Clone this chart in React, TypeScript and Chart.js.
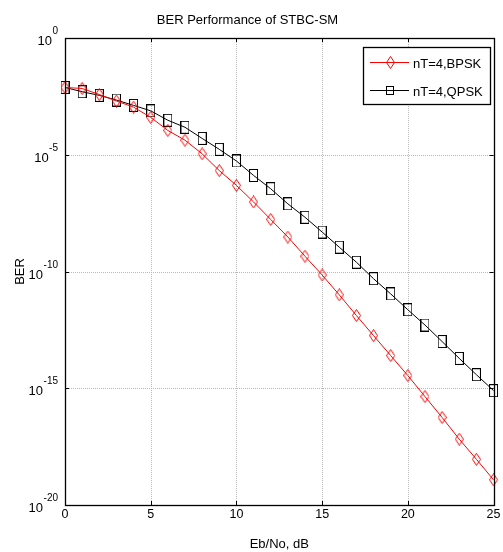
import React, { useEffect, useRef } from 'react';
import { Chart, registerables } from 'chart.js';

Chart.register(...registerables);

const snrDb = [0, 1, 2, 3, 4, 5, 6, 7, 8, 9, 10, 11, 12, 13, 14, 15, 16, 17, 18, 19, 20, 21, 22, 23, 24, 25];

const berBpsk = [
  7.6e-3, 6.9e-3, 3.8e-3, 2.0e-3, 1.1e-3, 4.0e-4, 1.1e-4, 4.2e-5, 1.1e-5, 2.1e-6,
  4.9e-7, 9.5e-8, 1.7e-8, 3.0e-9, 4.5e-10, 7.1e-11, 1.0e-11, 1.3e-12, 1.8e-13, 2.5e-14,
  3.5e-15, 4.4e-16, 5.6e-17, 6.6e-18, 9.1e-19, 1.2e-19,
];

const berQpsk = [
  7.6e-3, 5.0e-3, 3.5e-3, 2.2e-3, 1.3e-3, 7.6e-4, 3.0e-4, 1.5e-4, 5.0e-5, 1.7e-5,
  5.4e-6, 1.3e-6, 3.5e-7, 7.9e-8, 2.1e-8, 4.9e-9, 1.1e-9, 2.5e-10, 4.9e-11, 1.1e-11,
  2.3e-12, 5.1e-13, 1.0e-13, 1.9e-14, 3.8e-15, 7.9e-16,
];

const seriesLabels = ['nT=4,BPSK', 'nT=4,QPSK'];
const seriesColors = ['#ff0000', '#000000'];
const xTickValues = [0, 5, 10, 15, 20, 25];
const yTickBase = '10';
const yTickExponents = [0, -5, -10, -15, -20];
const titleText = 'BER Performance of STBC-SM';
const xTitleText = 'Eb/No, dB';
const yTitleText = 'BER';

const FONT = "'Liberation Sans', Arial, Helvetica, sans-serif";

function makeDiamond(color: string, w: number, h: number) {
  const c = document.createElement('canvas');
  c.width = w;
  c.height = h;
  const g = c.getContext('2d')!;
  g.strokeStyle = color;
  g.lineWidth = 1;
  g.beginPath();
  g.moveTo(w / 2, 0.5);
  g.lineTo(w - 0.5, h / 2);
  g.lineTo(w / 2, h - 0.5);
  g.lineTo(0.5, h / 2);
  g.closePath();
  g.stroke();
  return c;
}

function makeSquare(color: string, w: number, h: number) {
  const c = document.createElement('canvas');
  c.width = w;
  c.height = h;
  const g = c.getContext('2d')!;
  g.strokeStyle = color;
  g.lineWidth = 1;
  g.strokeRect(0.5, 0.5, w - 1, h - 1);
  return c;
}

export default function App() {
  const canvasRef = useRef<HTMLCanvasElement | null>(null);

  useEffect(() => {
    const canvas = canvasRef.current;
    if (!canvas) return;

    const diamond = makeDiamond(seriesColors[0], 9, 13);
    const square = makeSquare(seriesColors[1], 9, 13);
    const legendDiamond = makeDiamond(seriesColors[0], 9, 13);
    const legendSquare = makeSquare(seriesColors[1], 8, 9);

    const decorPlugin = {
      id: 'decor',
      beforeDatasetsDraw(chart: any) {
        const { ctx, chartArea: a, scales } = chart;
        const xs = scales.x;
        const ys = scales.y;
        ctx.save();
        ctx.strokeStyle = '#b8b8b8';
        ctx.lineWidth = 1;
        ctx.setLineDash([1, 1]);
        for (const v of xTickValues) {
          const px = Math.round(xs.getPixelForValue(v)) + 0.5;
          if (px - a.left < 2 || a.right - px < 2) continue;
          ctx.beginPath();
          ctx.moveTo(px, a.top);
          ctx.lineTo(px, a.bottom);
          ctx.stroke();
        }
        for (const e of yTickExponents) {
          const py = Math.round(ys.getPixelForValue(Math.pow(10, e))) + 0.5;
          if (py - a.top < 2 || a.bottom - py < 2) continue;
          ctx.beginPath();
          ctx.moveTo(a.left, py);
          ctx.lineTo(a.right, py);
          ctx.stroke();
        }
        ctx.restore();
      },
      afterDraw(chart: any) {
        const { ctx, chartArea: a, scales } = chart;
        const xs = scales.x;
        const ys = scales.y;
        ctx.save();
        ctx.setLineDash([]);
        ctx.strokeStyle = '#000';
        ctx.lineWidth = 1.3;
        ctx.strokeRect(Math.round(a.left) + 0.5, Math.round(a.top) + 0.5, Math.round(a.right - a.left), Math.round(a.bottom - a.top));

        // inward tick marks
        ctx.lineWidth = 1;
        const tl = 4;
        for (const v of xTickValues) {
          const px = Math.round(xs.getPixelForValue(v)) + 0.5;
          ctx.beginPath();
          ctx.moveTo(px, a.bottom);
          ctx.lineTo(px, a.bottom - tl);
          ctx.moveTo(px, a.top);
          ctx.lineTo(px, a.top + tl);
          ctx.stroke();
        }
        for (const e of yTickExponents) {
          const py = Math.round(ys.getPixelForValue(Math.pow(10, e))) + 0.5;
          ctx.beginPath();
          ctx.moveTo(a.left, py);
          ctx.lineTo(a.left + tl, py);
          ctx.moveTo(a.right, py);
          ctx.lineTo(a.right - tl, py);
          ctx.stroke();
        }

        // y tick labels with superscript exponents
        ctx.fillStyle = '#000';
        const R = 58;
        for (const e of yTickExponents) {
          const py = ys.getPixelForValue(Math.pow(10, e));
          const expText = String(e);
          ctx.font = `10px ${FONT}`;
          const we = ctx.measureText(expText).width;
          ctx.textAlign = 'left';
          ctx.textBaseline = 'alphabetic';
          ctx.fillText(expText, R - we, py - 4);
          ctx.font = `13px ${FONT}`;
          ctx.textAlign = 'right';
          ctx.fillText(yTickBase, R - we - 0.5, py + 7);
        }

        // legend
        const lx = 363.5, ly = 47.5, lw = 127, lh = 57;
        ctx.fillStyle = '#fff';
        ctx.fillRect(lx, ly, lw, lh);
        ctx.strokeStyle = '#000';
        ctx.lineWidth = 1.3;
        ctx.strokeRect(lx, ly, lw, lh);
        const rows = [62.5, 90.5];
        const markers = [legendDiamond, legendSquare];
        for (let i = 0; i < seriesLabels.length; i++) {
          const yy = rows[i];
          ctx.strokeStyle = seriesColors[i];
          ctx.lineWidth = 1;
          ctx.beginPath();
          ctx.moveTo(370, yy);
          ctx.lineTo(409, yy);
          ctx.stroke();
          const m = markers[i];
          ctx.drawImage(m, Math.round(390 - m.width / 2), Math.round(yy - m.height / 2));
          ctx.fillStyle = '#000';
          ctx.font = `13px ${FONT}`;
          ctx.textAlign = 'left';
          ctx.textBaseline = 'alphabetic';
          ctx.fillText(seriesLabels[i], 413, yy + 5);
        }
        ctx.restore();
      },
    };

    const chart = new Chart(canvas, {
      type: 'line',
      data: {
        labels: snrDb,
        datasets: [
          {
            label: seriesLabels[0],
            data: snrDb.map((x, i) => ({ x, y: berBpsk[i] })),
            borderColor: seriesColors[0],
            backgroundColor: 'transparent',
            borderWidth: 1,
            pointStyle: diamond as any,
            pointRadius: 5,
            pointHoverRadius: 5,
            tension: 0,
            clip: false as any,
          },
          {
            label: seriesLabels[1],
            data: snrDb.map((x, i) => ({ x, y: berQpsk[i] })),
            borderColor: seriesColors[1],
            backgroundColor: 'transparent',
            borderWidth: 1,
            pointStyle: square as any,
            pointRadius: 5,
            pointHoverRadius: 5,
            tension: 0,
            clip: false as any,
          },
        ],
      },
      plugins: [decorPlugin],
      options: {
        responsive: false,
        animation: false,
        events: [],
        layout: { padding: { left: 0, right: 8, top: 0, bottom: 0 } },
        plugins: {
          legend: { display: false },
          tooltip: { enabled: false },
          title: {
            display: true,
            text: titleText,
            color: '#000',
            font: { family: FONT, size: 13, weight: 'normal' },
            padding: { top: 12.5, bottom: 9.9 },
          },
        },
        scales: {
          x: {
            type: 'linear',
            min: 0,
            max: 25,
            afterBuildTicks: (s: any) => {
              s.ticks = xTickValues.map((v) => ({ value: v }));
            },
            afterFit: (s: any) => {
              s.height = 47;
            },
            grid: { display: false, drawTicks: false },
            border: { display: false },
            ticks: {
              color: '#000',
              font: { family: FONT, size: 12.5 },
              padding: 2.5,
              maxRotation: 0,
              autoSkip: false,
            },
            title: {
              display: true,
              text: xTitleText,
              color: '#000',
              font: { family: FONT, size: 13 },
              padding: { top: 0, bottom: 0 },
            },
          },
          y: {
            type: 'logarithmic',
            min: 1e-20,
            max: 1,
            afterBuildTicks: (s: any) => {
              s.ticks = yTickExponents.map((e) => ({ value: Math.pow(10, e) }));
            },
            afterFit: (s: any) => {
              s.width = 65;
            },
            grid: { display: false, drawTicks: false },
            border: { display: false },
            ticks: { display: false },
            title: {
              display: true,
              text: yTitleText,
              color: '#000',
              font: { family: FONT, size: 13 },
              padding: { top: 12.5, bottom: 0 },
            },
          },
        },
      } as any,
    });

    return () => {
      chart.destroy();
    };
  }, []);

  return (
    <div style={{ position: 'absolute', left: 0, top: 0, width: 503, height: 552, background: '#fff' }}>
      <canvas ref={canvasRef} width={503} height={552} style={{ display: 'block', width: 503, height: 552 }} />
    </div>
  );
}
